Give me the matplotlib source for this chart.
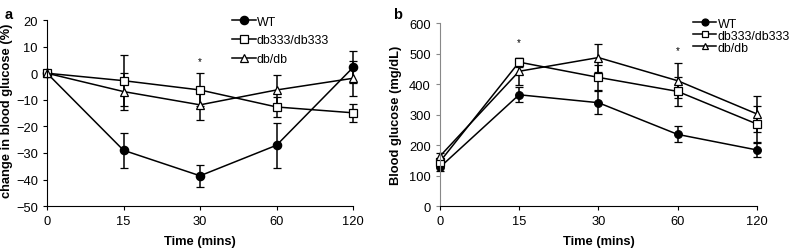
import matplotlib
matplotlib.use("Agg")
import matplotlib.pyplot as plt
from matplotlib.lines import Line2D

times = ["0", "15", "30", "60", "120"]

# panel a: change in blood glucose (%)
wt_pct = [0, -29, -38.6, -27.1, 2.2]
wt_pct_err = [0, 6.6, 4.1, 8.5, 6.0]
db333_pct = [0, -2.8, -6.3, -12.7, -14.9]
db333_pct_err = [0, 9.6, 6.2, 3.6, 3.4]
dbdb_pct = [0, -6.9, -11.9, -6.3, -1.9]
dbdb_pct_err = [0, 6.9, 5.7, 5.6, 6.5]

# panel b: blood glucose (mg/dL)
wt_bg = [127, 365, 339, 235, 184]
wt_bg_err = [12, 25, 38, 26, 22]
db333_bg = [145, 472, 422, 376, 269]
db333_bg_err = [12, 15, 40, 48, 60]
dbdb_bg = [163, 442, 487, 411, 302]
dbdb_bg_err = [12, 45, 46, 58, 60]

labels = ["WT", "db333/db333", "db/db"]
markers = ["o", "s", "^"]
faces = ["black", "white", "white"]

plt.rcParams['font.family'] = ['Liberation Sans', 'DejaVu Sans']
fs = 9.3

fig = plt.figure(figsize=(7.91, 2.51), dpi=100)
ax1 = fig.add_axes([0.0594, 0.175, 0.387, 0.741])
ax2 = fig.add_axes([0.556, 0.175, 0.401, 0.729])

x = list(range(len(times)))


def draw(ax, series, errs, ms):
    for vals, err, marker, face in zip(series, errs, markers, faces):
        ax.errorbar(x, vals, yerr=err, color="black", lw=1.1, marker=marker,
                    mfc=face, mec="black", mew=0.9, ms=ms, capsize=3,
                    elinewidth=1.1, capthick=1.1, clip_on=False)


def legend(ax, ms, anchor, spacing):
    handles = [Line2D([], [], color="black", lw=1.1, marker=m, mfc=f,
                      mec="black", mew=0.9, ms=ms)
               for m, f in zip(markers, faces)]
    ax.legend(handles, labels, loc="upper left", bbox_to_anchor=anchor,
              fontsize=8.9, frameon=False, handlelength=1.9, handletextpad=0.1,
              labelspacing=spacing, borderaxespad=0, borderpad=0)


draw(ax1, [wt_pct, db333_pct, dbdb_pct], [wt_pct_err, db333_pct_err, dbdb_pct_err], 6)
draw(ax2, [wt_bg, db333_bg, dbdb_bg], [wt_bg_err, db333_bg_err, dbdb_bg_err], 5.5)

ax1.set_ylim(-50, 20)
ax1.set_yticks(range(-50, 21, 10))
ax2.set_ylim(0, 600)
ax2.set_yticks(range(0, 601, 100))

for ax in (ax1, ax2):
    ax.set_xlim(0, 4)
    ax.set_xticks(x)
    ax.set_xticklabels(times)
    ax.spines["top"].set_visible(False)
    ax.spines["right"].set_visible(False)
    ax.tick_params(labelsize=fs, length=3, width=0.8, direction="out")
    ax.set_xlabel("Time (mins)", fontsize=fs, fontweight="bold", labelpad=6)

ax2.spines["left"].set_color("#888888")
ax2.tick_params(axis="y", color="#888888")

ax1.set_ylabel("change in blood glucose (%)", fontsize=fs, fontweight="bold")
ax2.set_ylabel("Blood glucose (mg/dL)", fontsize=fs, fontweight="bold")
ax1.yaxis.set_label_coords(-0.112, 0.52)
ax2.yaxis.set_label_coords(-0.12, 0.5)

legend(ax1, 6, (0.605, 1.024), 0.55)
legend(ax2, 5, (0.798, 1.03), 0.0)

ax1.text(2, 4.6, "*", ha="center", va="center", fontsize=7)
ax2.text(1, 538, "*", ha="center", va="center", fontsize=7)
ax2.text(3, 512, "*", ha="center", va="center", fontsize=7)

fig.text(0.006, 0.97, "a", fontsize=10.5, fontweight="bold", va="top")
fig.text(0.497, 0.97, "b", fontsize=10.5, fontweight="bold", va="top")

fig.savefig("out.png", dpi=100)
